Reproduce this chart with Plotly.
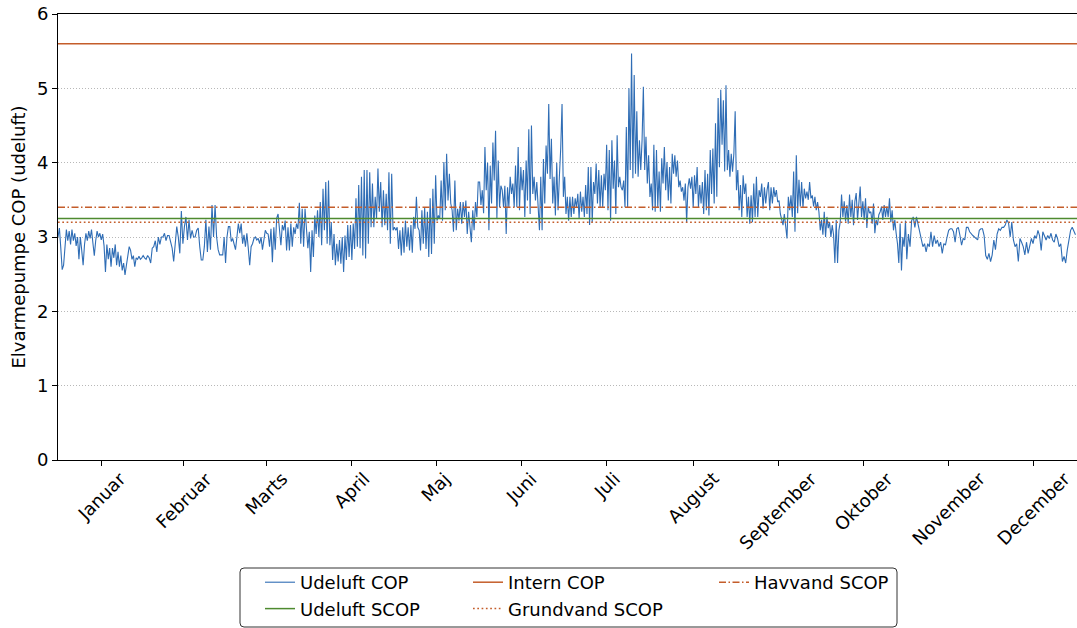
import pandas as pd
import plotly.graph_objects as go

# Udeluft COP, read at roughly twice-daily resolution per month
jan = [3.0, 3.12, 2.85, 2.56, 2.62, 2.9, 3.1, 2.95, 3.08, 2.9, 3.1, 2.95, 3.05, 2.88, 3.0, 2.7,
       3.0, 2.82, 2.62, 2.9, 3.05, 2.95, 3.08, 2.98, 3.1, 2.92, 2.75, 2.95, 3.08, 3.0, 3.05, 2.96,
       3.04, 2.88, 2.53, 2.9, 2.7, 2.85, 2.6, 2.85, 2.72, 2.9, 2.62, 2.8, 2.6, 2.75, 2.55, 2.65,
       2.49, 2.62, 2.75, 2.87, 2.82, 2.7, 2.75, 2.6, 2.72, 2.7, 2.74, 2.7, 2.72, 2.75]
feb = [2.72, 2.7, 2.75, 2.72, 2.65, 2.85, 2.87, 2.95, 2.8, 3.0, 2.9, 3.0, 3.0, 3.05, 2.95, 3.02,
       3.02, 2.94, 2.85, 2.67, 2.93, 3.14, 3.0, 2.78, 3.35, 2.91, 3.14, 3.27, 2.96, 3.23, 2.98, 3.09,
       3.0, 3.0, 3.09, 3.12, 2.87, 2.69, 2.69, 2.87, 3.23, 2.8, 3.14, 2.83, 3.43, 3.0, 3.43, 3.0,
       2.83, 2.76, 2.76]
mar = [2.76, 3.0, 2.65, 3.0, 3.14, 3.14, 2.94, 2.98, 2.9, 2.83, 3.0, 3.18, 3.05, 3.18, 2.91, 3.03,
       2.87, 3.05, 2.85, 2.62, 2.87, 2.91, 2.98, 3.0, 2.96, 2.98, 2.91, 3.0, 2.83, 2.95, 3.09, 3.05,
       3.04, 2.87, 3.11, 2.66, 3.13, 2.83, 3.25, 3.31, 3.09, 2.89, 3.16, 3.09, 3.22, 2.82, 3.13, 2.82,
       3.18, 2.87, 3.13, 3.04, 3.18, 3.11, 3.46, 2.91, 3.38, 2.87, 3.38, 3.09, 2.85]
apr = [3.07, 2.53, 3.09, 2.73, 3.29, 3.04, 3.36, 3.0, 3.47, 2.89, 3.65, 3.09, 3.74, 2.91, 3.76, 2.89,
       3.2, 2.69, 3.04, 2.62, 2.91, 2.67, 2.96, 2.64, 3.0, 2.53, 3.02, 2.69, 3.16, 2.73, 3.16, 2.69,
       3.18, 2.84, 3.52, 2.87, 3.70, 2.85, 3.81, 2.75, 3.90, 2.71, 3.90, 2.91, 3.87, 3.13, 3.72, 3.13,
       3.54, 3.25, 3.92, 3.34, 3.74, 3.13, 3.63, 3.16, 3.58, 3.09, 3.87, 2.91, 3.85]
may = [3.09, 3.13, 3.09, 3.13, 2.84, 3.09, 2.75, 3.13, 2.79, 3.22, 2.87, 3.13, 2.82, 3.16, 2.79, 3.27,
       3.11, 3.54, 3.13, 3.09, 2.82, 3.36, 2.91, 3.40, 2.84, 3.34, 2.73, 3.52, 2.77, 3.65, 2.91, 3.83,
       3.22, 3.29, 3.25, 3.76, 3.22, 4.01, 3.36, 4.12, 3.49, 3.85, 3.45, 3.36, 3.07, 3.76, 3.09, 3.38,
       3.22, 3.47, 3.18, 3.47, 3.27, 3.49, 3.04, 3.34, 3.09, 2.93, 3.36, 3.09, 3.47, 3.27, 3.74]
jun = [3.74, 3.43, 3.63, 3.32, 4.21, 3.63, 4.0, 3.09, 3.96, 3.45, 4.27, 3.76, 4.43, 3.25, 4.03, 3.40,
       3.69, 3.63, 3.40, 3.69, 3.04, 3.67, 3.40, 3.81, 3.58, 3.72, 3.40, 3.96, 3.40, 4.21, 3.36, 3.94,
       3.63, 3.90, 3.27, 4.03, 3.49, 4.45, 3.31, 4.50, 3.58, 3.81, 3.49, 3.74, 3.36, 3.09, 3.81, 3.09,
       4.05, 3.45, 4.23, 3.85, 4.79, 3.78, 4.32, 3.45, 3.81, 3.29, 4.0, 3.36, 3.81, 4.19, 4.79]
jul = [3.54, 3.81, 3.31, 3.54, 3.22, 3.54, 3.27, 3.54, 3.31, 3.52, 3.40, 3.58, 3.25, 3.61, 3.34, 3.54,
       3.27, 3.70, 3.31, 3.94, 3.16, 3.94, 3.20, 3.74, 3.58, 3.99, 3.45, 3.90, 3.40, 3.83, 3.40, 3.85,
       3.63, 4.24, 3.36, 4.17, 3.22, 4.30, 3.65, 4.03, 3.31, 4.37, 3.67, 3.81, 3.67, 3.63, 3.76, 3.40,
       4.48, 3.40, 5.0, 3.90, 5.47, 3.79, 5.18, 3.85, 4.69, 3.81, 4.30, 3.90, 4.30, 5.02, 3.90, 4.35,
       3.72, 4.10]
aug = [3.54, 3.72, 3.36, 4.24, 3.34, 4.17, 3.40, 3.88, 3.34, 4.06, 3.72, 4.21, 3.63, 4.01, 3.49, 3.94,
       3.45, 4.12, 3.85, 4.10, 3.81, 4.03, 3.67, 3.76, 3.61, 3.67, 3.49, 3.72, 3.20, 3.67, 3.79, 3.65,
       3.81, 3.40, 3.83, 3.58, 3.94, 3.40, 3.70, 3.45, 3.74, 3.31, 3.90, 3.36, 3.85, 3.29, 4.17, 3.58,
       4.19, 3.45, 4.53, 3.54, 4.87, 3.94, 4.98, 4.24, 4.84, 3.88, 5.04, 3.90, 4.17, 3.81, 4.12, 3.88,
       4.12, 4.69]
sep = [3.63, 3.90, 3.36, 3.70, 3.27, 3.83, 3.58, 3.72, 3.27, 3.54, 3.18, 3.56, 3.20, 3.72, 3.27, 3.81,
       3.27, 3.63, 3.54, 3.72, 3.38, 3.67, 3.45, 3.63, 3.74, 3.36, 3.67, 3.45, 3.67, 3.54, 3.63, 3.47,
       3.49, 3.31, 3.25, 3.16, 3.31, 3.16, 2.98, 3.54, 3.36, 3.56, 3.27, 3.88, 3.07, 4.10, 3.32, 3.77,
       3.41, 3.74, 3.39, 3.65, 3.52, 3.61, 3.50, 3.74, 3.52, 3.56, 3.41, 3.54, 3.36, 3.47, 3.34]
okt = [3.09, 3.23, 3.03, 3.34, 3.0, 3.27, 3.12, 3.20, 3.0, 3.16, 3.03, 2.65, 3.23, 2.65, 3.09, 3.20,
       3.57, 3.27, 3.48, 3.21, 3.43, 3.18, 3.57, 3.27, 3.50, 3.16, 3.48, 3.59, 3.23, 3.45, 3.68, 3.27,
       3.48, 3.23, 3.52, 3.12, 3.41, 3.32, 3.34, 3.18, 3.45, 3.05, 3.23, 3.16, 3.30, 3.34, 3.41, 3.23,
       3.43, 3.27, 3.41, 3.27, 3.52, 3.20, 3.36, 3.09, 3.23, 3.05, 2.91, 2.65, 3.18, 2.55, 3.0, 2.87,
       3.22]
nov = [2.70, 3.04, 2.87, 3.22, 3.27, 3.13, 3.27, 3.16, 3.07, 2.96, 2.87, 2.91, 2.80, 2.91, 2.87, 3.07,
       2.87, 3.02, 2.91, 2.96, 2.87, 2.93, 2.78, 2.91, 2.89, 3.0, 3.09, 3.11, 3.11, 3.07, 2.93, 3.11,
       3.13, 3.02, 2.89, 2.98, 2.96, 3.13, 3.13, 3.07, 3.04, 3.02, 3.0, 2.98, 2.96, 3.09, 3.11, 3.11,
       3.02, 2.75, 2.70, 2.78]
dec = [2.67, 2.76, 2.96, 2.83, 3.04, 3.11, 3.09, 3.13, 3.13, 3.16, 3.23, 3.19, 3.0, 3.20, 2.96, 2.87,
       2.91, 2.67, 2.98, 2.93, 2.87, 2.76, 2.93, 2.78, 2.91, 2.98, 2.91, 3.02, 2.98, 3.09, 3.02, 2.82,
       3.07, 3.0, 2.96, 3.02, 2.98, 3.05, 2.96, 2.93, 3.04, 2.98, 2.87, 2.91, 2.67, 2.74, 2.65, 2.83,
       2.98, 3.09, 3.13, 3.07, 3.03]

month_values = [jan, feb, mar, apr, may, jun, jul, aug, sep, okt, nov, dec]
month_names = ["Januar", "Februar", "Marts", "April", "Maj", "Juni", "Juli", "August",
               "September", "Oktober", "November", "December"]

# Seasonal / constant reference levels
intern_cop = 5.6
havvand_scop = 3.4
udeluft_scop = 3.25
grundvand_scop = 3.2

YEAR = 2023
BLUE = "#2f6db5"
ORANGE = "#c45d2a"
GREEN = "#4e8a2f"
FONT = "DejaVu Sans"
FS = 18

# Spread each month's samples evenly over that month
times, values, mid_months = [], [], []
for m, arr in enumerate(month_values):
    start = pd.Timestamp(YEAR, m + 1, 1)
    end = start + pd.offsets.MonthBegin(1)
    step = (end - start) / len(arr)
    times += [start + i * step for i in range(len(arr))]
    values += arr
    mid_months.append(start + (end - start) / 2)

x_start = pd.Timestamp(YEAR, 1, 1)
x_end = pd.Timestamp(YEAR, 12, 31, 23)

fig = go.Figure()

fig.add_trace(go.Scatter(x=times, y=values, mode="lines", name="Udeluft COP",
                         line=dict(color=BLUE, width=1.1), legend="legend",
                         legendgroup="a"))


def hline(level, name, color, dash, legend, group):
    fig.add_trace(go.Scatter(x=[x_start, x_end], y=[level, level], mode="lines", name=name,
                             line=dict(color=color, width=1.5, dash=dash), legend=legend,
                             legendgroup=group))


hline(udeluft_scop, "Udeluft SCOP", GREEN, "solid", "legend", "b")
hline(intern_cop, "Intern COP", ORANGE, "solid", "legend2", "c")
hline(grundvand_scop, "Grundvand SCOP", ORANGE, "1.7px,2.6px", "legend2", "d")
hline(havvand_scop, "Havvand SCOP", ORANGE, "7px,2.5px,1.5px,2.5px", "legend3", "e")

# Month labels centred under mid-month ticks, rotated 45 degrees
for name, mid in zip(month_names, mid_months):
    fig.add_annotation(x=mid, xref="x", y=-0.012, yref="paper", text=name, showarrow=False,
                       textangle=-45, xanchor="center", yanchor="top",
                       font=dict(family=FONT, size=FS, color="black"))

PLOT_L, PLOT_W, PLOT_B, PLOT_H = 58, 1019, 460, 446


def px_x(px):
    return (px - PLOT_L) / PLOT_W


def px_y(py):
    return (PLOT_B - py) / PLOT_H


# Legend frame with slightly rounded corners
x0, x1, y0, y1 = px_x(240), px_x(897), px_y(627), px_y(568)
rx, ry = 4 / PLOT_W, 4 / PLOT_H
path = (f"M {x0+rx},{y0} L {x1-rx},{y0} Q {x1},{y0} {x1},{y0+ry} L {x1},{y1-ry} "
        f"Q {x1},{y1} {x1-rx},{y1} L {x0+rx},{y1} Q {x0},{y1} {x0},{y1-ry} "
        f"L {x0},{y0+ry} Q {x0},{y0} {x0+rx},{y0} Z")
fig.add_shape(type="path", path=path, xref="paper", yref="paper",
              line=dict(color="#333333", width=1), fillcolor="white", layer="below")

legend_common = dict(orientation="v", yanchor="top", xanchor="left", y=px_y(564),
                     bgcolor="rgba(0,0,0,0)", borderwidth=0,
                     font=dict(family=FONT, size=FS, color="black"), tracegroupgap=0)

fig.update_layout(
    width=1077, height=628,
    margin=dict(l=58, r=0, t=14, b=168, autoexpand=False),
    paper_bgcolor="white", plot_bgcolor="white",
    font=dict(family=FONT, size=FS, color="black"),
    showlegend=True,
    legend=dict(x=px_x(260), **legend_common),
    legend2=dict(x=px_x(468), **legend_common),
    legend3=dict(x=px_x(714), **legend_common),
    xaxis=dict(type="date", range=[x_start, x_end], showline=True, linecolor="black",
               linewidth=1, mirror=True, ticks="outside", ticklen=5, tickcolor="black",
               tickvals=mid_months, showticklabels=False, showgrid=False, zeroline=False),
    yaxis=dict(range=[0, 6], tickvals=[0, 1, 2, 3, 4, 5, 6], showline=True, linecolor="black",
               linewidth=1, mirror=True, ticks="outside", ticklen=5, tickcolor="black",
               showgrid=True, gridcolor="#b8b8b8", griddash="1px,2px", gridwidth=1,
               zeroline=False, tickfont=dict(family=FONT, size=FS),
               title=dict(text="Elvarmepumpe COP (udeluft)", standoff=6,
                          font=dict(family=FONT, size=FS))),
)

fig.write_html("out.html")
